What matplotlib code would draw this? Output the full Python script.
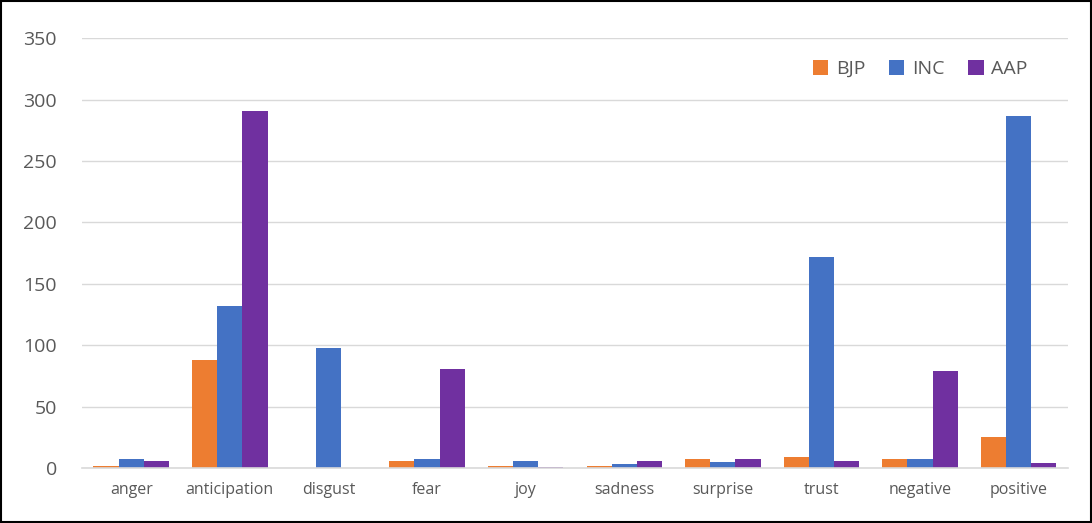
import numpy as np
import matplotlib.pyplot as plt

categories = ["anger", "anticipation", "disgust", "fear", "joy",
              "sadness", "surprise", "trust", "negative", "positive"]
bjp = [2, 88, 0, 6, 2, 2, 7, 9, 7, 25]
inc = [7, 132, 98, 7, 6, 3, 5, 172, 7, 287]
aap = [6, 291, 0, 81, 1, 6, 7, 6, 79, 4]

plt.rcParams["font.family"] = ["Open Sans", "DejaVu Sans"]

fig = plt.figure(figsize=(10.92, 5.23), dpi=100)
ax = fig.add_axes([0.075, 0.105, 0.903, 0.822])

x = np.arange(len(categories))
w = 0.255
ax.bar(x - w, bjp, w, color="#ED7D31", label="BJP")
ax.bar(x, inc, w, color="#4472C4", label="INC")
ax.bar(x + w, aap, w, color="#7030A0", label="AAP")

ax.set_xlim(-0.5, len(categories) - 0.5)
ax.set_ylim(0, 350)
ax.set_yticks(range(0, 351, 50))
ax.set_xticks(x)
ax.set_xticklabels(categories)
ax.yaxis.grid(True, color="#d9d9d9", linewidth=1)
ax.set_axisbelow(True)
for s in ["top", "left", "right"]:
    ax.spines[s].set_visible(False)
ax.spines["bottom"].set_color("#d9d9d9")
ax.spines["bottom"].set_linewidth(1.2)
ax.tick_params(axis="y", length=0, labelsize=14, labelcolor="#595959", pad=18)
ax.tick_params(axis="x", length=0, labelsize=11.5, labelcolor="#595959", pad=10)

ax.legend(loc="upper right", bbox_to_anchor=(0.977, 0.99), ncol=3, frameon=False,
          fontsize=14, labelcolor="#595959", handlelength=0.8, handleheight=0.8,
          columnspacing=1.2, handletextpad=0.4)

fig.patches.append(plt.Rectangle((0.001, 0.001), 0.998, 0.998, transform=fig.transFigure,
                                 fill=False, edgecolor="black", linewidth=1.5))

fig.savefig("out.png")
